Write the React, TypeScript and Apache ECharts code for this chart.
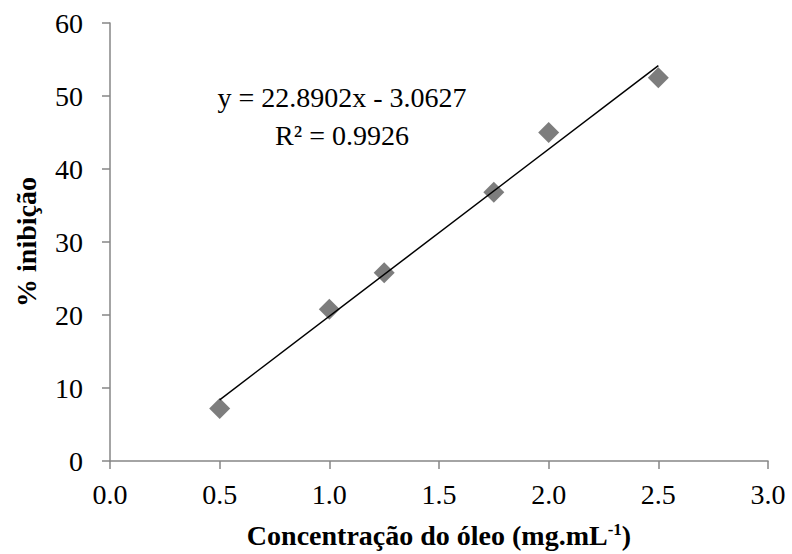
import React, { useEffect, useRef } from "react";
import * as echarts from "echarts";

const concentrations = [0.5, 1.0, 1.25, 1.75, 2.0, 2.5];
const inhibition = [7.2, 20.8, 25.8, 36.8, 45.0, 52.5];
const trendSlope = 22.8902;
const trendIntercept = -3.0627;
const trendRange = [0.5, 2.5];
const equationText = "y = 22.8902x - 3.0627";
const r2Text = "R² = 0.9926";
const xTitle = "Concentração do óleo (mg.mL";
const yTitle = "% inibição";

const FONT = "Times New Roman, Liberation Serif, DejaVu Serif, serif";
const AXIS_GREY = "#868686";

export default function App() {
  const ref = useRef<HTMLDivElement>(null);
  useEffect(() => {
    if (!ref.current) return;
    const chart = echarts.init(ref.current, null, { renderer: "svg" });
    const trend = trendRange.map((x) => [x, trendSlope * x + trendIntercept]);
    chart.setOption({
      animation: false,
      backgroundColor: "#ffffff",
      textStyle: { fontFamily: FONT },
      grid: { left: 110, right: 24, top: 23, bottom: 92 },
      xAxis: {
        type: "value",
        min: 0,
        max: 3,
        interval: 0.5,
        splitLine: { show: false },
        axisLine: { show: true, onZero: false, lineStyle: { color: AXIS_GREY, width: 1.5 } },
        axisTick: { show: true, length: 8, lineStyle: { color: AXIS_GREY, width: 1.5 } },
        axisLabel: {
          fontFamily: FONT,
          fontSize: 28,
          color: "#000",
          margin: 19,
          formatter: (v: number) => v.toFixed(1),
        },
        name: "{t|" + xTitle + "}{s|-1}{t|)}",
        nameLocation: "middle",
        nameGap: 60,
        nameTextStyle: {
          rich: {
            t: { fontFamily: FONT, fontSize: 28, fontWeight: "bold", color: "#000" },
            s: { fontFamily: FONT, fontSize: 17, fontWeight: "bold", color: "#000", verticalAlign: "top", padding: [0, 0, 11, 0] },
          },
        },
      },
      yAxis: {
        type: "value",
        min: 0,
        max: 60,
        interval: 10,
        splitLine: { show: false },
        axisLine: { show: true, lineStyle: { color: AXIS_GREY, width: 1.5 } },
        axisTick: { show: true, length: 8, lineStyle: { color: AXIS_GREY, width: 1.5 } },
        axisLabel: { fontFamily: FONT, fontSize: 28, color: "#000", margin: 27 },
        name: yTitle,
        nameLocation: "middle",
        nameGap: 70,
        nameRotate: 90,
        nameTextStyle: { fontFamily: FONT, fontSize: 28, fontWeight: "bold", color: "#000" },
      },
      series: [
        {
          type: "line",
          data: trend,
          showSymbol: false,
          lineStyle: { color: "#000", width: 1.5 },
          z: 3,
        },
        {
          type: "scatter",
          data: concentrations.map((x, i) => [x, inhibition[i]]),
          symbol: "diamond",
          symbolSize: 21,
          itemStyle: { color: "#5d5d5d" },
          z: 2,
        },
      ],
      graphic: [
        {
          type: "text",
          x: 342,
          y: 97,
          style: { text: equationText, fontFamily: FONT, fontSize: 28, fill: "#000", align: "center", verticalAlign: "middle" },
        },
        {
          type: "text",
          x: 342,
          y: 135,
          style: { text: r2Text, fontFamily: FONT, fontSize: 28, fill: "#000", align: "center", verticalAlign: "middle" },
        },
      ],
    });
    return () => chart.dispose();
  }, []);
  return <div ref={ref} style={{ width: 792, height: 554, position: "fixed", left: 0, top: 0 }} />;
}
